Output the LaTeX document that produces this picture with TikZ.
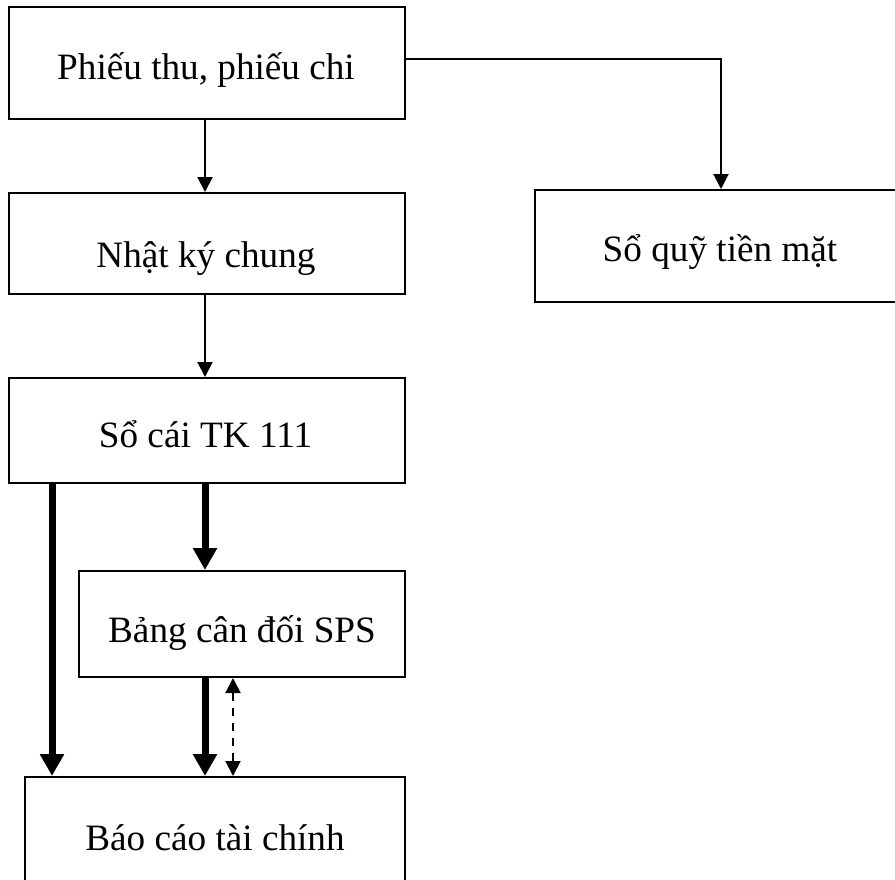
\documentclass[tikz,border=0pt]{standalone}
\usepackage{fontspec}
\setmainfont{Liberation Serif}
\usetikzlibrary{arrows.meta}
\begin{document}
\begin{tikzpicture}[x=1pt,y=-1pt,
  box/.style={draw, line width=2pt, inner sep=0pt},
  lbl/.style={inner sep=0pt, text height=24.6pt, text depth=0pt, font=\fontsize{37.2}{40}\selectfont},
  thinarr/.style={line width=2pt, -{Triangle[width=15pt,length=15pt]}},
  thickarr/.style={line width=7pt, -{Triangle[width=23pt,length=22pt]}},
  dasharr/.style={line width=2pt, dash pattern=on 8pt off 7pt, {Triangle[width=15pt,length=15pt]}-{Triangle[width=15pt,length=15pt]}}
]
\useasboundingbox (0,0) rectangle (895,879);
\clip (0,0) rectangle (895,879);
\node[box, minimum width=396pt, minimum height=112pt] (b1) at (207,63) {};
\node[box, minimum width=396pt, minimum height=101pt] (b2) at (207,243.5) {};
\node[box, minimum width=370pt, minimum height=112pt] (b3) at (720,246) {};
\node[box, minimum width=396pt, minimum height=105pt] (b4) at (207,430.5) {};
\node[box, minimum width=326pt, minimum height=106pt] (b5) at (242,624) {};
\node[box, minimum width=380pt, minimum height=123pt] (b6) at (215,838.5) {};
\node[lbl] (t1) at (206,67) {Phiếu thu, phiếu chi};
\node[lbl] (t2) at (206,255.5) {Nhật ký chung};
\node[lbl] (t3) at (720,249) {Sổ quỹ tiền mặt};
\node[lbl] (t4) at (205.5,435.5) {Sổ cái TK 111};
\node[lbl] (t5) at (242,630) {Bảng cân đối SPS};
\node[lbl] (t6) at (215,838) {Báo cáo tài chính};
\coordinate (xa) at (205,0);
\coordinate (xl) at (52,0);
\coordinate (xd) at (233,0);
\coordinate (xr) at (721,0);
\coordinate (yr) at (0,59);
\draw[thinarr] (b1.south -| xa) -- (b2.north -| xa);
\draw[thinarr] (b2.south -| xa) -- (b4.north -| xa);
\draw[thinarr] (b1.east |- yr) -- (xr |- yr) -- (b3.north -| xr);
\draw[thickarr] (b4.south -| xl) -- (b6.north -| xl);
\draw[thickarr] (b4.south -| xa) -- (b5.north -| xa);
\draw[thickarr] (b5.south -| xa) -- (b6.north -| xa);
\draw[dasharr] (b5.south -| xd) -- (b6.north -| xd);
\end{tikzpicture}
\end{document}
